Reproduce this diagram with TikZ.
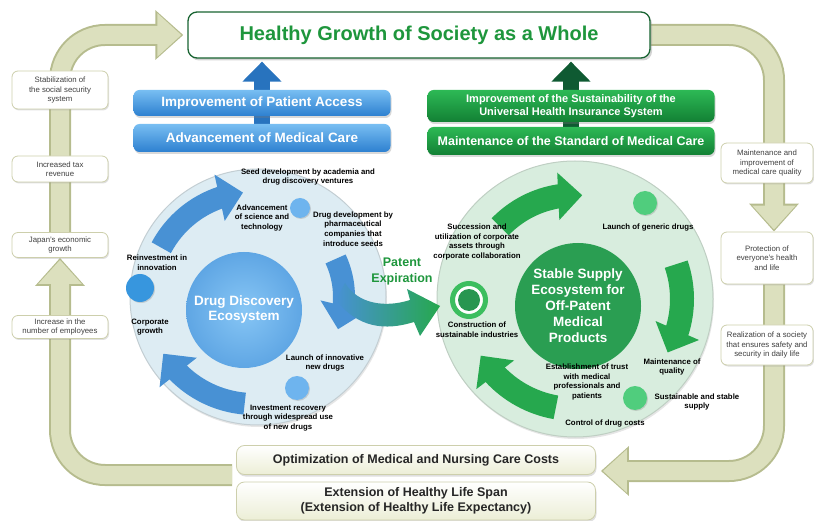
\documentclass[tikz,border=0pt]{standalone}
\usepackage{fontspec}
\setmainfont{Liberation Sans}
\definecolor{khaki}{RGB}{220,224,190}
\definecolor{khakiedge}{RGB}{182,188,142}
\definecolor{boxedge}{RGB}{205,207,172}
\definecolor{cream}{RGB}{236,238,214}
\definecolor{titlegreen}{RGB}{30,150,60}
\definecolor{titleedge}{RGB}{25,100,50}
\definecolor{ringblue}{RGB}{72,145,212}
\definecolor{ringgreen}{RGB}{38,168,78}
\definecolor{discblue}{RGB}{221,236,243}
\definecolor{discgreen}{RGB}{216,237,222}
\definecolor{coreblueA}{RGB}{135,198,245}
\definecolor{coreblueB}{RGB}{95,166,228}
\definecolor{coregreen}{RGB}{42,158,82}
\definecolor{boxblueA}{RGB}{120,190,242}
\definecolor{boxblueB}{RGB}{45,128,208}
\definecolor{boxgreenA}{RGB}{45,185,85}
\definecolor{boxgreenB}{RGB}{18,128,52}
\definecolor{arrowblue}{RGB}{40,115,190}
\definecolor{arrowgreen}{RGB}{15,90,50}
\definecolor{dotblue}{RGB}{110,180,238}
\definecolor{dotgreen}{RGB}{80,205,125}
\usetikzlibrary{arrows.meta,bending,shadows,backgrounds,positioning}

\begin{document}
\begin{tikzpicture}[x=1pt, y=1pt,
    sidebox/.style={draw=boxedge, line width=0.8pt, fill=white, rounded corners=6pt, align=center, inner sep=2pt,
        text=black!75, font=\fontsize{7.8}{9.3}\selectfont, drop shadow={opacity=0.25, shadow xshift=1pt, shadow yshift=-1.5pt}},
    bluebox/.style={rounded corners=6pt, top color=boxblueA, bottom color=boxblueB, text=white, align=center,
        minimum width=257pt, drop shadow={opacity=0.3, shadow xshift=1pt, shadow yshift=-2pt}},
    greenbox/.style={rounded corners=6pt, top color=boxgreenA, bottom color=boxgreenB, text=white, align=center,
        minimum width=287pt, drop shadow={opacity=0.3, shadow xshift=1pt, shadow yshift=-2pt}},
    bottombox/.style={draw=boxedge, line width=0.8pt, rounded corners=8pt, top color=white, bottom color=cream,
        minimum width=359pt, align=center, text=black!85, font=\fontsize{12.5}{14.5}\selectfont\bfseries,
        drop shadow={opacity=0.25, shadow xshift=1pt, shadow yshift=-2pt}},
    lbl/.style={align=center, inner sep=0pt, font=\fontsize{7.8}{9.6}\selectfont\bfseries},
    dot/.style={circle, inner sep=0pt, drop shadow={opacity=0.3, shadow xshift=1pt, shadow yshift=-1pt}},
    ringarrow/.style={line width=22pt, -{Triangle[width=46pt,length=24pt]}},
    bigarrow/.style={line width=22pt, draw=khakiedge, rounded corners=45pt, -{Triangle[width=48pt,length=28pt]}},
    bigarrowin/.style={line width=18pt, draw=khaki, rounded corners=45pt, -{Triangle[width=42pt,length=24pt]}, shorten >=2pt}]
    \useasboundingbox (0,0) rectangle (814,-521);

    % Title
    \node[draw=titleedge, line width=1.3pt, fill=white, rounded corners=9pt, minimum width=462pt, minimum height=46pt,
        text=titlegreen, font=\fontsize{20}{24}\selectfont\bfseries, drop shadow={opacity=0.35, shadow xshift=2pt, shadow yshift=-2.5pt}]
        (title) at (419,-35) {Healthy Growth of Society as a Whole};

    % Blue and green boxes
    \node[bluebox, minimum height=26pt, font=\fontsize{13.5}{16}\selectfont\bfseries] (access) at (262,-103) {Improvement of Patient Access};
    \node[bluebox, minimum height=28pt, font=\fontsize{13.5}{16}\selectfont\bfseries] (advance) at (262,-138) {Advancement of Medical Care};
    \node[greenbox, minimum height=32pt, font=\fontsize{11}{13.5}\selectfont\bfseries] (sustain) at (571,-106) {Improvement of the Sustainability of the\\Universal Health Insurance System};
    \node[greenbox, minimum height=28pt, font=\fontsize{12.5}{15}\selectfont\bfseries] (standard) at (571,-141) {Maintenance of the Standard of Medical Care};

    % Left column
    \node[sidebox, minimum width=96pt, minimum height=38pt] (stab) at (60,-90) {Stabilization of\\the social security\\system};
    \node[sidebox, minimum width=96pt, minimum height=26pt] (tax) at (60,-169) {Increased tax\\revenue};
    \node[sidebox, minimum width=96pt, minimum height=25pt] (japan) at (60,-245) {Japan's economic\\growth};
    \node[sidebox, minimum width=96pt, minimum height=23pt] (employ) at (60,-327) {Increase in the\\number of employees};

    % Right column
    \node[sidebox, minimum width=92pt, minimum height=40pt] (quality) at (767,-163) {Maintenance and\\improvement of\\medical care quality};
    \node[sidebox, minimum width=92pt, minimum height=52pt] (protect) at (767,-258) {Protection of\\everyone's health\\and life};
    \node[sidebox, minimum width=92pt, minimum height=40pt] (realize) at (767,-345) {Realization of a society\\that ensures safety and\\security in daily life};

    % Bottom boxes
    \node[bottombox, minimum height=29pt] (optim) at (416,-460) {Optimization of Medical and Nursing Care Costs};
    \node[bottombox, minimum height=38pt] (extend) at (416,-501) {Extension of Healthy Life Span\\(Extension of Healthy Life Expectancy)};

    % Drug discovery ecosystem
    \node[circle, inner sep=0pt, minimum size=256pt, fill=discblue, draw=discblue!85!black!90, line width=1pt,
        drop shadow={opacity=0.2, shadow xshift=1pt, shadow yshift=-2pt}] (ddisc) at (258,-297) {};
    \coordinate (leftc) at (254,-297);
    \draw[ringarrow, ringblue] ([shift={(152:105)}]leftc) arc[start angle=152, end angle=96, radius=105];
    \draw[ringarrow, ringblue] ([shift={(25:90)}]leftc) arc[start angle=25, end angle=-21, radius=90];
    \draw[ringarrow, ringblue] ([shift={(-95:107)}]leftc) arc[start angle=-95, end angle=-148, radius=107];
    \node[circle, inner sep=0pt, minimum size=116pt, inner color=coreblueA, outer color=coreblueB, text=white,
        align=center, font=\fontsize{13.5}{15}\selectfont\bfseries] (ddcore) at (244,-310) {Drug Discovery\\Ecosystem};
    \node[dot, fill=dotblue, minimum size=20pt] (seeddot) at (300,-208) {};
    \node[dot, fill={rgb,255:red,55;green,150;blue,222}, minimum size=28pt] (growdot) at (140,-288) {};
    \node[dot, fill=dotblue, minimum size=24pt] (launchdot) at (297,-388) {};

    % Labels round the left circle
    \node[lbl] (seed) at (308,-177) {Seed development by academia and\\drug discovery ventures};
    \node[lbl] (advsci) at (262,-218) {Advancement\\of science and\\technology};
    \node[lbl] (drugdev) at (353,-229) {Drug development by\\pharmaceutical\\companies that\\introduce seeds};
    \node[lbl] (reinvest) at (157,-263) {Reinvestment in\\innovation};
    \node[lbl] (corpgrow) at (150,-327) {Corporate\\growth};
    \node[lbl] (launch) at (325,-363) {Launch of innovative\\new drugs};
    \node[lbl] (recover) at (288,-418) {Investment recovery\\through widespread use\\of new drugs};

    % Stable supply ecosystem
    \node[circle, inner sep=0pt, minimum size=276pt, fill=discgreen, draw=discgreen!85!black!90, line width=1pt,
        drop shadow={opacity=0.2, shadow xshift=1pt, shadow yshift=-2pt}] (sdisc) at (575,-299) {};
    \coordinate (rightc) at (575,-299);
    \draw[ringarrow, ringgreen, line width=24pt] ([shift={(136:104)}]rightc) arc[start angle=136, end angle=86, radius=104];
    \draw[ringarrow, ringgreen, line width=24pt] ([shift={(19:107)}]rightc) arc[start angle=19, end angle=-30, radius=107];
    \draw[ringarrow, ringgreen, line width=24pt] ([shift={(-100:110)}]rightc) arc[start angle=-100, end angle=-149, radius=110];
    \node[circle, inner sep=0pt, minimum size=126pt, fill=coregreen, text=white, align=center,
        font=\fontsize{13.5}{16}\selectfont\bfseries] (sscore) at (578,-306) {Stable Supply\\Ecosystem for\\Off-Patent\\Medical\\Products};
    \node[dot, fill=dotgreen, minimum size=24pt] (genericdot) at (645,-203) {};
    \node[dot, fill=dotgreen, minimum size=24pt] (supplydot) at (635,-398) {};
    \node[dot, fill=white, draw={rgb,255:red,60;green,190;blue,95}, line width=5pt, minimum size=33pt] (target) at (469,-300) {};
    \node[circle, inner sep=0pt, fill={rgb,255:red,40;green,150;blue,80}, minimum size=22pt] (targetcore) at (target) {};

    % Labels round the right circle
    \node[lbl] (succession) at (477,-242) {Succession and\\utilization of corporate\\assets through\\corporate collaboration};
    \node[lbl] (generic) at (648,-228) {Launch of generic drugs};
    \node[lbl] (construct) at (477,-330) {Construction of\\sustainable industries};
    \node[lbl] (keepqual) at (672,-367) {Maintenance of\\quality};
    \node[lbl] (trust) at (587,-382) {Establishment of trust\\with medical\\professionals and\\patients};
    \node[lbl] (stable) at (697,-402) {Sustainable and stable\\supply};
    \node[lbl] (cost) at (605,-424) {Control of drug costs};

    % Patent expiration
    \shade[left color=ringblue, right color=ringgreen]
        (345,-283) .. controls (358,-304) and (385,-308) .. (410,-300) -- (407,-289) -- (440,-306)
        -- (420,-336) -- (414,-322) .. controls (385,-331) and (358,-328) .. (336,-300) -- cycle;
    \node[align=center, text=titlegreen, font=\fontsize{12.5}{16}\selectfont\bfseries] (patent) at (402,-271) {Patent\\Expiration};

    % Arrows behind the boxes
    \begin{scope}[on background layer]
        \coordinate (lstart) at (232,-475);
        \draw[bigarrow] (lstart) -| (japan.south);
        \draw[bigarrowin] (lstart) -| (japan.south);
        \draw[bigarrow] (japan.north) |- ([xshift=-4pt]title.west);
        \draw[bigarrowin] (japan.north) |- ([xshift=-4pt]title.west);
        \draw[bigarrow] (title.east) -| ([xshift=7pt]protect.north);
        \draw[bigarrowin] (title.east) -| ([xshift=7pt]protect.north);
        \draw[bigarrow] ([xshift=7pt]protect.south) |- ([xshift=5pt,yshift=-11pt]optim.east);
        \draw[bigarrowin] ([xshift=7pt]protect.south) |- ([xshift=5pt,yshift=-11pt]optim.east);
        \draw[line width=16pt, arrowblue, -{Triangle[width=38pt,length=20pt]}] (advance.center) -- ([yshift=-3pt]advance.center |- title.south);
        \draw[line width=16pt, arrowgreen, -{Triangle[width=38pt,length=20pt]}] (standard.center) -- ([yshift=-3pt]standard.center |- title.south);
    \end{scope}
\end{tikzpicture}
\end{document}
